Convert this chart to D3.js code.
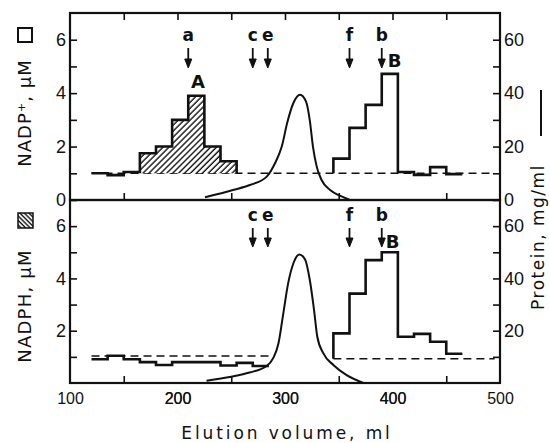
<!DOCTYPE html>
<html>
<head>
<meta charset="utf-8">
<script src="https://cdn.jsdelivr.net/npm/d3@7"></script>
<style>
  body { margin: 0; background: #fff; }
  svg { display: block; font-family: "DejaVu Sans", sans-serif; }
</style>
</head>
<body>
<svg width="550" height="443"></svg>
<script>
// NADP+ (top panel) fraction edges and values, uM
const nadpEdges = [120, 135, 150, 165, 180, 195, 210, 225, 240, 255];
const nadpValues = [1.0, 0.93, 1.05, 1.75, 2.0, 3.0, 3.9, 2.0, 1.45];
const nadpHatchFrom = 3;
const peakBEdges = [345, 360, 375, 390, 405, 420, 435, 450, 465];
const nadpBValues = [1.55, 2.7, 3.56, 4.72, 1.05, 0.94, 1.23, 0.97];

// NADPH (bottom panel)
const nadphEdges = [120, 135, 150, 165, 180, 195, 210, 225, 240, 255, 270, 285];
const nadphValues = [0.91, 1.04, 0.91, 0.80, 0.69, 0.80, 0.80, 0.80, 0.67, 0.77, 0.65];
const nadphBValues = [1.9, 3.42, 4.7, 5.0, 1.77, 1.88, 1.58, 1.12];

// protein, mg/ml  [volume, value]
const proteinTop = [[225.6, 1.0], [251.6, 3.75], [267.4, 5.6], [283, 8.75], [290.7, 13.75], [297, 20],
  [302, 28.8], [307.8, 36.3], [314, 39.4], [319.5, 36.9], [323, 30], [326, 20], [329.5, 12.5],
  [334, 7.5], [342, 3.75], [351, 1.6], [360, 0.1]];
const proteinBottom = [[227, 0.9], [250, 2.4], [267, 4.0], [283, 6.5], [289, 9.5], [294, 15.3],
  [298, 25.5], [303, 38.3], [308, 46], [313.3, 49.2], [318.6, 47.3], [323, 39.6], [327, 28],
  [330, 17.8], [335.6, 11.4], [345, 6.9], [357, 3.1], [373, 0]];

// baselines (dashed)
const topBaseline = {from: 120, to: 495, value: 1.0};
const bottomBaselines = [{from: 120, to: 285, value: 1.03}, {from: 345, to: 495, value: 0.93}];

// marker arrows
const markerNames = ["a", "c", "e", "f", "b"];
const markerVolumes = [210, 270, 284, 360, 390];
const xTickLabels = [100, 200, 300, 400, 500];

const svg = d3.select("svg");
const x = d3.scaleLinear().domain([100, 500]).range([70, 500]);

const panels = [
  {top: 13, bottom: 200, left: d3.scaleLinear().domain([0, 7]).range([200, 13]),
   right: d3.scaleLinear().domain([0, 70]).range([200, 13]), zero: true},
  {top: 200, bottom: 383, left: d3.scaleLinear().domain([0, 7]).range([383, 200]),
   right: d3.scaleLinear().domain([0, 70]).range([383, 200]), zero: false}
];

// hatch patterns
const defs = svg.append("defs");
[["hatch", 45, 4.2], ["hatchKey", -45, 3.2]].forEach(([id, ang, w]) => {
  const p = defs.append("pattern").attr("id", id).attr("patternUnits", "userSpaceOnUse")
    .attr("width", w).attr("height", w).attr("patternTransform", `rotate(${ang})`);
  p.append("rect").attr("width", w).attr("height", w).attr("fill", "#fff");
  p.append("line").attr("x1", 1).attr("y1", 0).attr("x2", 1).attr("y2", w)
    .attr("stroke", "#111").attr("stroke-width", 1.4);
});

const steps = (edges, vals) => edges.slice(0, vals.length).map((e, i) => [e, vals[i]])
  .concat([[edges[vals.length], vals[vals.length - 1]]]);

function drawPanel(p, opts) {
  const g = svg.append("g");
  const yl = p.left, yr = p.right;

  // axes
  const leftAxis = d3.axisLeft(yl).tickValues(d3.range(p.zero ? 0 : 1, 7))
    .tickSizeInner(-7).tickSizeOuter(0).tickPadding(4)
    .tickFormat(d => d % 2 === 0 ? d : "");
  const rightAxis = d3.axisRight(yr).tickValues(d3.range(p.zero ? 0 : 10, 70, 10))
    .tickSizeInner(-7).tickSizeOuter(0).tickPadding(4)
    .tickFormat(d => d % 20 === 0 ? d : "");
  const xTicks = d3.range(150, 500, 50);
  const ax = [
    g.append("g").attr("transform", "translate(70,0)").call(leftAxis),
    g.append("g").attr("transform", "translate(500,0)").call(rightAxis),
    g.append("g").attr("transform", `translate(0,${p.bottom})`)
      .call(d3.axisBottom(x).tickValues(opts.xLabels ? xTicks.concat(xTickLabels) : xTicks)
        .tickSizeInner(-7).tickSizeOuter(0).tickPadding(10)
        .tickFormat(d => opts.xLabels && d % 100 === 0 ? d : ""))
  ];
  if (p.zero) {
    ax.push(g.append("g").attr("transform", `translate(0,${p.top})`)
      .call(d3.axisTop(x).tickValues(xTicks).tickSizeInner(-7).tickSizeOuter(0).tickFormat("")));
  }
  ax.forEach(a => {
    a.select(".domain").remove();
    a.selectAll("line").attr("stroke", "#111").attr("stroke-width", 1.6);
    a.selectAll("text").attr("font-size", 18).attr("fill", "#111");
  });
  ax[2].selectAll("text").attr("font-size", 16);
  ax[2].selectAll(".tick").filter(d => d % 100 === 0).select("line").remove();

  g.append("rect").attr("x", 70).attr("y", p.top).attr("width", 430).attr("height", p.bottom - p.top)
    .attr("fill", "none").attr("stroke", "#111").attr("stroke-width", 2.2);

  // dashed baselines
  opts.baselines.forEach(b => {
    g.append("line").attr("x1", x(b.from)).attr("x2", x(b.to))
      .attr("y1", yl(b.value)).attr("y2", yl(b.value))
      .attr("stroke", "#111").attr("stroke-width", 1.6).attr("stroke-dasharray", "8,5");
  });

  // hatched area
  if (opts.hatch) {
    g.append("path").datum(opts.hatch)
      .attr("d", d3.area().curve(d3.curveStepAfter).x(d => x(d[0])).y0(yl(opts.baselines[0].value)).y1(d => yl(d[1])))
      .attr("fill", "url(#hatch)");
  }

  const line = d3.line().curve(d3.curveStepAfter).x(d => x(d[0])).y(d => yl(d[1]));
  opts.stepLines.forEach(pts => {
    g.append("path").datum(pts).attr("d", line)
      .attr("fill", "none").attr("stroke", "#111").attr("stroke-width", 2.6).attr("stroke-linejoin", "miter");
  });

  // protein curve
  g.append("path").datum(opts.protein)
    .attr("d", d3.line().curve(d3.curveMonotoneX).x(d => x(d[0])).y(d => yr(d[1])))
    .attr("fill", "none").attr("stroke", "#111").attr("stroke-width", 2);

  // arrows
  opts.markers.forEach(i => {
    const cx = x(markerVolumes[i]);
    g.append("text").attr("x", cx).attr("y", opts.arrowY[0] - 7).attr("text-anchor", "middle")
      .attr("font-size", 17).attr("font-weight", "bold").attr("fill", "#111").text(markerNames[i]);
    g.append("line").attr("x1", cx).attr("x2", cx).attr("y1", opts.arrowY[0]).attr("y2", opts.arrowY[1] - 4)
      .attr("stroke", "#111").attr("stroke-width", 1.8);
    g.append("path").attr("d", `M${cx - 3.5},${opts.arrowY[1] - 9}L${cx},${opts.arrowY[1]}L${cx + 3.5},${opts.arrowY[1] - 9}Z`)
      .attr("fill", "#111").attr("stroke", "#111").attr("stroke-width", 1);
  });
  opts.peaks.forEach(pk => {
    g.append("text").attr("x", x(pk.v)).attr("y", pk.y).attr("text-anchor", "middle")
      .attr("font-size", 18).attr("font-weight", "bold").attr("fill", "#111").text(pk.name);
  });
}

const baseTop = topBaseline.value;
drawPanel(panels[0], {
  xLabels: false,
  baselines: [topBaseline],
  hatch: steps(nadpEdges.slice(nadpHatchFrom), nadpValues.slice(nadpHatchFrom)),
  stepLines: [
    steps(nadpEdges, nadpValues).concat([[nadpEdges[nadpEdges.length - 1], baseTop]]),
    [[peakBEdges[0], baseTop]].concat(steps(peakBEdges, nadpBValues))
  ],
  protein: proteinTop,
  markers: [0, 1, 2, 3, 4],
  arrowY: [48, 68],
  peaks: [{name: "A", v: 219, y: 88}, {name: "B", v: 402, y: 67}]
});

drawPanel(panels[1], {
  xLabels: true,
  baselines: bottomBaselines,
  hatch: null,
  stepLines: [
    steps(nadphEdges, nadphValues),
    [[peakBEdges[0], bottomBaselines[1].value]].concat(steps(peakBEdges, nadphBValues))
  ],
  protein: proteinBottom,
  markers: [1, 2, 3, 4],
  arrowY: [228, 247],
  peaks: [{name: "B", v: 400, y: 248}]
});

// axis titles
svg.append("text").attr("x", 287).attr("y", 439).attr("text-anchor", "middle")
  .attr("font-size", 17).attr("letter-spacing", 2.9).attr("fill", "#111").text("Elution volume, ml");

svg.append("text").attr("transform", "translate(31,113) rotate(-90)").attr("text-anchor", "middle")
  .attr("font-size", 18).attr("letter-spacing", 1).attr("fill", "#111").text("NADP\u207A, \u03BCM");
svg.append("rect").attr("x", 18).attr("y", 28).attr("width", 14).attr("height", 14)
  .attr("fill", "#fff").attr("stroke", "#111").attr("stroke-width", 2);

svg.append("text").attr("transform", "translate(31,306) rotate(-90)").attr("text-anchor", "middle")
  .attr("font-size", 18).attr("letter-spacing", 1.2).attr("fill", "#111").text("NADPH, \u03BCM");
svg.append("rect").attr("x", 18).attr("y", 213).attr("width", 15).attr("height", 15)
  .attr("fill", "url(#hatchKey)").attr("stroke", "#111").attr("stroke-width", 1.5);

svg.append("text").attr("transform", "translate(544,237) rotate(-90)").attr("text-anchor", "middle")
  .attr("font-size", 17).attr("letter-spacing", 1.5).attr("fill", "#111").text("Protein, mg/ml");
svg.append("line").attr("x1", 541).attr("x2", 541).attr("y1", 90).attr("y2", 136)
  .attr("stroke", "#111").attr("stroke-width", 2);
</script>
</body>
</html>
